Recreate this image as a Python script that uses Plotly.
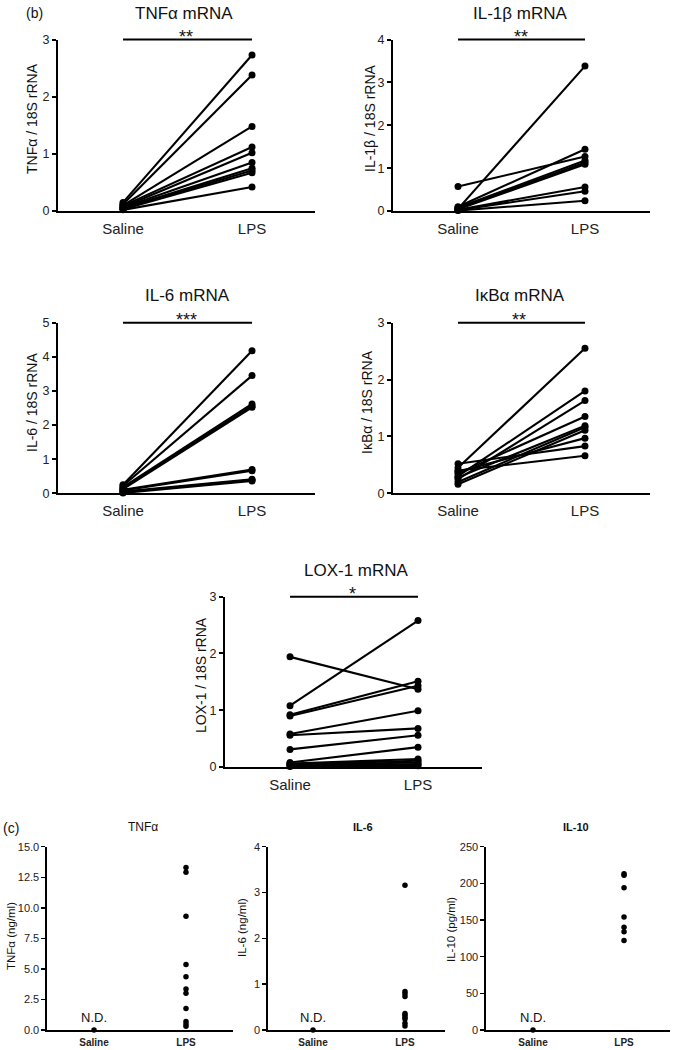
import plotly.graph_objects as go

W, H = 676, 1050

# ---------------- data ----------------
groups = ["Saline", "LPS"]

# (b) mRNA, paired values (Saline -> LPS)
tnf_m_saline = [0.15, 0.12, 0.10, 0.09, 0.07, 0.06, 0.05, 0.04, 0.03, 0.02]
tnf_m_lps = [2.73, 2.38, 1.48, 1.12, 1.02, 0.85, 0.75, 0.71, 0.67, 0.42]

il1b_m_saline = [0.05, 0.10, 0.57, 0.08, 0.06, 0.04, 0.03, 0.02, 0.01]
il1b_m_lps = [3.38, 1.44, 1.27, 1.18, 1.13, 1.09, 0.56, 0.46, 0.24]

il6_m_saline = [0.25, 0.22, 0.18, 0.15, 0.12, 0.10, 0.08, 0.05, 0.03, 0.01]
il6_m_lps = [4.18, 3.45, 2.62, 2.56, 2.52, 0.70, 0.66, 0.41, 0.39, 0.36]

ikba_m_saline = [0.45, 0.30, 0.25, 0.35, 0.28, 0.20, 0.16, 0.38, 0.52, 0.40]
ikba_m_lps = [2.55, 1.80, 1.63, 1.35, 1.19, 1.16, 1.11, 0.97, 0.83, 0.66]

lox1_m_saline = [1.94, 1.08, 0.92, 0.90, 0.58, 0.56, 0.31, 0.08, 0.06, 0.05, 0.04, 0.02, 0.01]
lox1_m_lps = [1.37, 2.58, 1.51, 1.43, 0.99, 0.68, 0.56, 0.35, 0.14, 0.11, 0.08, 0.05, 0.02]

# (c) plasma proteins
tnf_p_saline = [0.0]
tnf_p_lps = [13.3, 12.9, 9.3, 5.35, 4.35, 3.35, 3.0, 1.75, 0.7, 0.5, 0.3]
il6_p_saline = [0.0]
il6_p_lps = [3.16, 0.84, 0.79, 0.73, 0.36, 0.32, 0.28, 0.24, 0.15, 0.09]
il10_p_saline = [0.0]
il10_p_lps = [213, 211, 194, 154, 140, 134, 122]

# ---------------- helpers ----------------
def fx(px):
    return px / W

def fy(py):
    return 1 - py / H

FONT = "Liberation Sans, Arial, Helvetica, sans-serif"

fig = go.Figure()
annotations = []
shapes = []
layout_axes = {}

def add_axes(i, xpx, ypx, xr, yr, tickvals, ticktext, small):
    xa = "xaxis" if i == 1 else f"xaxis{i}"
    ya = "yaxis" if i == 1 else f"yaxis{i}"
    xs = "x" if i == 1 else f"x{i}"
    ys = "y" if i == 1 else f"y{i}"
    lw = 1.6 if small else 2
    layout_axes[xa] = dict(
        domain=[fx(xpx[0]), fx(xpx[1])], anchor=ys, type="category",
        categoryorder="array", categoryarray=groups, range=xr,
        showline=True, linecolor="black", linewidth=lw, showgrid=False,
        zeroline=False, ticks="outside", ticklen=2 if small else 3,
        tickcolor="rgba(0,0,0,0)", automargin=False,
        tickfont=dict(family=FONT, size=10 if small else 15, color="#222",
                      weight="bold" if small else "normal"),
        fixedrange=True,
    )
    layout_axes[ya] = dict(
        domain=[fy(ypx[1]), fy(ypx[0])], anchor=xs, range=yr,
        tickvals=tickvals, ticktext=ticktext,
        showline=True, linecolor="black", linewidth=lw, showgrid=False,
        zeroline=False, ticks="outside", ticklen=4,
        tickwidth=1.5 if small else 2, tickcolor="black", automargin=False,
        tickfont=dict(family=FONT, size=11 if small else 12.5, color="#222"),
        fixedrange=True,
    )
    return xs, ys

def paired(i, xpx, ypx, xr, yr, tickvals, sal, lps):
    xs, ys = add_axes(i, xpx, ypx, xr, yr, tickvals, [str(v) for v in tickvals], False)
    X, Y = [], []
    for s, l in zip(sal, lps):
        X += [groups[0], groups[1], None]
        Y += [s, l, None]
    fig.add_trace(go.Scatter(
        x=X, y=Y, xaxis=xs, yaxis=ys, mode="lines+markers",
        line=dict(color="black", width=2.1), marker=dict(color="black", size=7),
        cliponaxis=False, showlegend=False, hoverinfo="skip"))
    # significance bar spanning the two groups, at the top of the axis
    shapes.append(dict(type="line", xref=xs, yref="paper", x0=0, x1=1,
                       y0=fy(ypx[0]), y1=fy(ypx[0]),
                       line=dict(color="black", width=2)))

def scatter(i, xpx, ypx, xr, yr, tickvals, ticktext, sal, lps):
    xs, ys = add_axes(i, xpx, ypx, xr, yr, tickvals, ticktext, True)
    fig.add_trace(go.Scatter(
        x=[groups[0]] * len(sal) + [groups[1]] * len(lps), y=sal + lps,
        xaxis=xs, yaxis=ys, mode="markers",
        marker=dict(color="black", size=5.5), cliponaxis=False,
        showlegend=False, hoverinfo="skip"))

def text(px, py, s, size, rot=0, bold=False, color="#111"):
    annotations.append(dict(
        x=fx(px), y=fy(py), xref="paper", yref="paper", text=s,
        showarrow=False, textangle=rot, xanchor="center", yanchor="middle",
        font=dict(family=FONT, size=size, color=color,
                  weight="bold" if bold else "normal")))

# ---------------- panels (b) ----------------
paired(1, (58, 315), (39.5, 211), [-0.504, 1.488], [0, 3], [0, 1, 2, 3], tnf_m_saline, tnf_m_lps)
paired(2, (393, 650), (39.5, 211), [-0.512, 1.512], [0, 4], [0, 1, 2, 3, 4], il1b_m_saline, il1b_m_lps)
paired(3, (58, 315), (322.7, 493.3), [-0.504, 1.488], [0, 5], [0, 1, 2, 3, 4, 5], il6_m_saline, il6_m_lps)
paired(4, (393, 650), (322.7, 493.3), [-0.512, 1.512], [0, 3], [0, 1, 2, 3], ikba_m_saline, ikba_m_lps)
paired(5, (225, 482), (596.7, 767), [-0.508, 1.5], [0, 3], [0, 1, 2, 3], lox1_m_saline, lox1_m_lps)

text(34, 13, "(b)", 14)
text(184, 13, "TNFα mRNA", 17)
text(520, 13, "IL-1β mRNA", 17)
text(187, 295, "IL-6 mRNA", 17)
text(520, 295, "IκBα mRNA", 17)
text(356, 570, "LOX-1 mRNA", 17)

text(186, 37, "**", 18)
text(521, 37, "**", 18)
text(186, 320, "***", 18)
text(519, 320, "**", 18)
text(353, 594, "*", 18)

text(32, 119, "TNFα / 18S rRNA", 14, rot=-90)
text(370, 118, "IL-1β / 18S rRNA", 14, rot=-90)
text(32, 403, "IL-6 / 18S rRNA", 14, rot=-90)
text(367, 402, "IκBα / 18S rRNA", 14, rot=-90)
text(201, 675, "LOX-1 / 18S rRNA", 14, rot=-90)

# ---------------- panels (c) ----------------
tnf_ticks = [0, 2.5, 5, 7.5, 10, 12.5, 15]
scatter(6, (47, 233), (846.7, 1030), [-0.511, 1.511], [0, 15], tnf_ticks,
        [f"{v:.1f}" for v in tnf_ticks], tnf_p_saline, tnf_p_lps)
il6_ticks = [0, 1, 2, 3, 4]
scatter(7, (268, 445), (846.7, 1030), [-0.489, 1.435], [0, 4], il6_ticks,
        [str(v) for v in il6_ticks], il6_p_saline, il6_p_lps)
il10_ticks = [0, 50, 100, 150, 200, 250]
scatter(8, (486, 670), (846.7, 1030), [-0.516, 1.505], [0, 250], il10_ticks,
        [str(v) for v in il10_ticks], il10_p_saline, il10_p_lps)

text(11, 828, "(c)", 14)
text(143, 827, "TNFα", 12)
text(363, 827, "IL-6", 11, bold=True)
text(576, 827, "IL-10", 11, bold=True)

text(11, 936, "TNFα (ng/ml)", 11.5, rot=-90)
text(242, 928, "IL-6 (ng/ml)", 11.5, rot=-90)
text(451, 930, "IL-10 (pg/ml)", 11.5, rot=-90)

text(94, 1017, "N.D.", 13)
text(313, 1017, "N.D.", 13)
text(533, 1017, "N.D.", 13)

fig.update_layout(
    template="none",
    width=W, height=H, autosize=False,
    margin=dict(l=0, r=0, t=0, b=0, pad=0, autoexpand=False),
    paper_bgcolor="white", plot_bgcolor="white",
    showlegend=False, annotations=annotations, shapes=shapes,
    font=dict(family=FONT, color="#111"),
    **layout_axes,
)

fig.write_html(
    "out.html",
    config={"displayModeBar": False, "staticPlot": True},
    post_script="document.body.style.margin='0';document.body.style.padding='0';"
                "document.body.style.overflow='hidden';",
)
